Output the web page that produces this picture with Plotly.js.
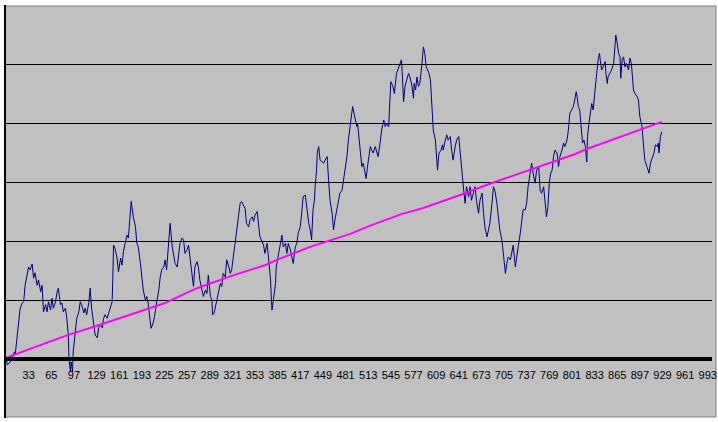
<!DOCTYPE html>
<html>
<head>
<meta charset="utf-8">
<script src="https://cdn.plot.ly/plotly-3.0.1.min.js"></script>
<style>html,body{margin:0;padding:0;background:#fff;}#chart{width:718px;height:422px;}</style>
</head>
<body>
<div id="chart"></div>
<script>
// Series index (x) and value (y)
const seriesIdx = [
1,3,7,11,13,14,16,19,21,24,
26,28,31,33,35,38,40,42,45,47,
50,52,54,57,59,61,64,66,68,71,
73,75,78,80,82,85,87,89,90,92,
93,95,96,99,101,104,106,108,111,113,
115,118,120,122,125,127,130,132,134,137,
139,141,144,146,148,151,152,153,155,158,
160,163,165,167,170,172,174,177,178,
181,184,186,188,191,193,195,198,200,202,
205,206,209,211,213,217,219,221,224,226,
228,230,232,233,236,238,240,243,245,247,
250,252,254,257,259,261,264,266,268,271,
273,275,278,280,283,285,287,290,292,293,
295,298,301,304,306,308,311,313,316,318,
320,323,325,327,330,332,334,337,339,341,
344,346,349,351,353,356,358,360,363,365,
367,370,372,375,376,377,379,382,383,386,
389,391,393,396,398,400,403,405,407,410,
412,414,417,419,421,424,426,429,431,433,
435,437,438,440,441,443,445,448,450,452,
455,457,459,462,464,466,469,471,473,476,
478,480,483,485,488,490,491,493,495,497,
498,500,502,504,506,509,510,512,513,516,
518,520,523,525,527,530,532,535,537,539,
542,543,545,548,550,553,555,557,560,561,
563,565,568,570,572,575,577,578,580,582,
584,586,589,591,593,595,597,599,601,602,
604,605,608,610,611,613,616,618,619,622,
624,626,629,631,633,636,638,641,643,645,
648,650,652,655,657,659,662,664,666,669,
671,674,676,678,681,683,685,688,690,692,
695,697,699,702,704,707,709,711,714,716,
718,721,723,725,728,730,732,735,737,739,
742,744,747,749,751,754,756,758,761,763,
765,767,769,771,773,775,777,780,782,784,
787,789,791,794,796,798,801,803,805,807,
809,810,812,815,816,818,820,822,823,825,
827,829,831,834,836,838,840,841,843,845,
848,849,851,852,855,857,860,862,863,865,
867,869,870,872,874,876,878,881,883,885,
888,890,893,895,897,900,902,904,907,909,
910,912,915,917,919,922,923,924,926,928
];
const seriesVal = [
0.01,-0.10,-0.05,0.07,0.12,0.07,0.29,0.53,0.86,0.95,
0.97,1.25,1.48,1.56,1.51,1.61,1.37,1.46,1.25,1.34,
1.14,1.25,0.80,0.92,0.80,0.97,0.83,1.03,0.86,0.97,
1.12,1.20,0.92,0.95,0.80,0.86,0.69,0.41,0.02,-0.22,
-0.05,-0.22,0.12,0.53,0.69,0.80,0.97,0.92,0.78,0.86,
0.75,0.95,1.20,0.86,0.63,0.41,0.36,0.53,0.58,0.53,
0.69,0.75,0.69,0.78,0.86,0.97,1.37,1.93,1.88,1.71,
1.48,1.71,1.59,1.82,1.99,2.10,2.05,2.44,2.67,
2.41,2.24,1.96,1.90,1.62,1.39,1.17,1.00,1.06,0.94,
0.61,0.52,0.61,0.72,0.89,1.17,1.39,1.51,1.56,1.68,
1.51,1.90,2.13,2.30,1.90,1.73,1.62,1.56,1.73,1.96,
2.05,2.02,1.79,1.85,1.93,1.73,1.39,1.23,1.56,1.65,
1.56,1.34,1.17,1.06,1.17,1.11,1.42,1.06,1.00,0.75,
0.77,0.94,1.06,1.28,1.23,1.45,1.39,1.68,1.56,1.45,
1.51,1.79,2.02,2.19,2.41,2.64,2.67,2.58,2.55,2.30,
2.24,2.36,2.41,2.33,2.44,2.50,2.24,2.07,1.99,1.93,
1.79,1.96,1.73,1.34,1.06,0.83,1.00,1.28,1.56,1.73,
1.96,2.10,1.90,1.96,1.79,1.96,1.85,1.73,1.62,1.90,
1.96,2.13,2.24,2.47,2.75,2.78,2.58,2.30,2.19,2.02,
2.53,2.69,2.92,3.20,3.49,3.60,3.37,3.34,3.32,3.37,
3.43,3.03,2.69,2.47,2.19,2.36,2.58,2.69,2.81,2.86,
3.03,3.26,3.43,3.71,3.99,4.16,4.28,4.16,4.05,3.94,
3.99,3.77,3.49,3.26,3.32,3.15,3.06,3.26,3.37,3.60,
3.54,3.49,3.60,3.49,3.43,3.68,3.88,4.05,3.94,3.99,
3.94,4.22,4.70,4.62,4.50,4.84,4.90,4.95,5.07,4.87,
4.36,4.62,4.73,4.84,4.78,4.62,4.42,4.67,4.56,4.78,
4.62,4.67,5.01,5.29,5.18,4.95,4.90,4.84,4.73,4.45,
4.16,3.88,3.71,3.43,3.20,3.49,3.54,3.63,3.54,3.71,
3.80,3.71,3.77,3.54,3.37,3.60,3.71,3.77,3.49,3.15,
2.86,2.64,2.92,2.75,2.92,2.69,2.81,2.92,2.69,2.47,
2.69,2.81,2.47,2.24,2.07,2.19,2.30,2.64,2.92,2.86,
2.64,2.41,2.19,2.02,1.79,1.45,1.62,1.73,1.68,1.79,
1.93,1.56,1.79,1.90,2.13,2.30,2.53,2.53,2.64,2.92,
3.15,3.32,3.09,2.98,3.20,3.26,2.86,2.81,2.92,2.64,
2.41,2.58,2.98,3.15,3.20,3.43,3.54,3.49,3.26,3.43,
3.54,3.66,3.60,3.71,3.88,4.16,4.22,4.28,4.39,4.53,
4.39,4.28,4.22,3.77,3.66,3.71,3.60,3.34,3.77,3.99,
4.22,4.33,4.22,4.67,4.84,5.07,5.18,5.07,4.90,4.95,
5.04,4.84,4.67,4.78,4.84,4.90,5.01,5.35,5.49,5.35,
5.18,5.12,4.76,5.07,5.12,4.95,5.01,4.90,5.10,5.01,
4.56,4.50,4.45,4.39,4.11,3.94,3.66,3.37,3.26,3.20,
3.15,3.32,3.43,3.49,3.63,3.60,3.66,3.49,3.77,3.85
];
// Trend line (magenta)
const trendIdx = [1,40,87,134,177,224,271,318,367,384,431,469,488,516,551,561,591,615,648,685,714,742,805,822,857,928];
const trendVal = [0.02,0.19,0.40,0.58,0.75,0.94,1.20,1.40,1.59,1.68,1.90,2.05,2.12,2.26,2.41,2.46,2.56,2.66,2.80,2.97,3.09,3.21,3.47,3.56,3.71,4.02];
// Category tick labels
const tickLabels = ["33","65","97","129","161","193","225","257","289","321","353","385","417","449","481","513","545","577","609","641","673","705","737","769","801","833","865","897","929","961","993"];
const tickPos = tickLabels.map(Number);
const gridVals = [0,1,2,3,4,5];

const traces = [
  {x: seriesIdx, y: seriesVal, type: 'scatter', mode: 'lines',
   line: {color: '#000080', width: 1}, hoverinfo: 'skip'},
  {x: trendIdx, y: trendVal, type: 'scatter', mode: 'lines',
   line: {color: '#FF00FF', width: 2}, hoverinfo: 'skip'}
];

const layout = {
  width: 718, height: 422,
  margin: {l: 6, r: 6, t: 5, b: 4, pad: 0},
  paper_bgcolor: '#ffffff',
  plot_bgcolor: 'rgba(0,0,0,0)',
  showlegend: false,
  hovermode: false,
  font: {family: '"Liberation Sans", Arial, sans-serif', size: 11, color: '#000'},
  xaxis: {
    range: [1, 999], anchor: 'free', position: 1/7,
    showgrid: false, zeroline: false,
    showline: true, linecolor: '#000', linewidth: 4,
    tickmode: 'array', tickvals: tickPos, ticktext: tickLabels,
    ticks: '', ticklabelstandoff: 5, tickfont: {size: 11, color: '#000'}
  },
  yaxis: {
    range: [-1, 6], tickmode: 'array', tickvals: gridVals,
    showticklabels: false, ticks: '',
    showgrid: true, gridcolor: '#000', gridwidth: 1,
    zeroline: false, showline: true, linecolor: '#000', linewidth: 2
  },
  shapes: [
    {type: 'rect', xref: 'paper', yref: 'paper', layer: 'below',
     x0: -0.0014, x1: 1.0057, y0: 0.0024, y1: 0.9976,
     fillcolor: '#C0C0C0', line: {color: '#808080', width: 1}}
  ]
};

Plotly.newPlot('chart', traces, layout, {displayModeBar: false, staticPlot: true});
</script>
</body>
</html>
